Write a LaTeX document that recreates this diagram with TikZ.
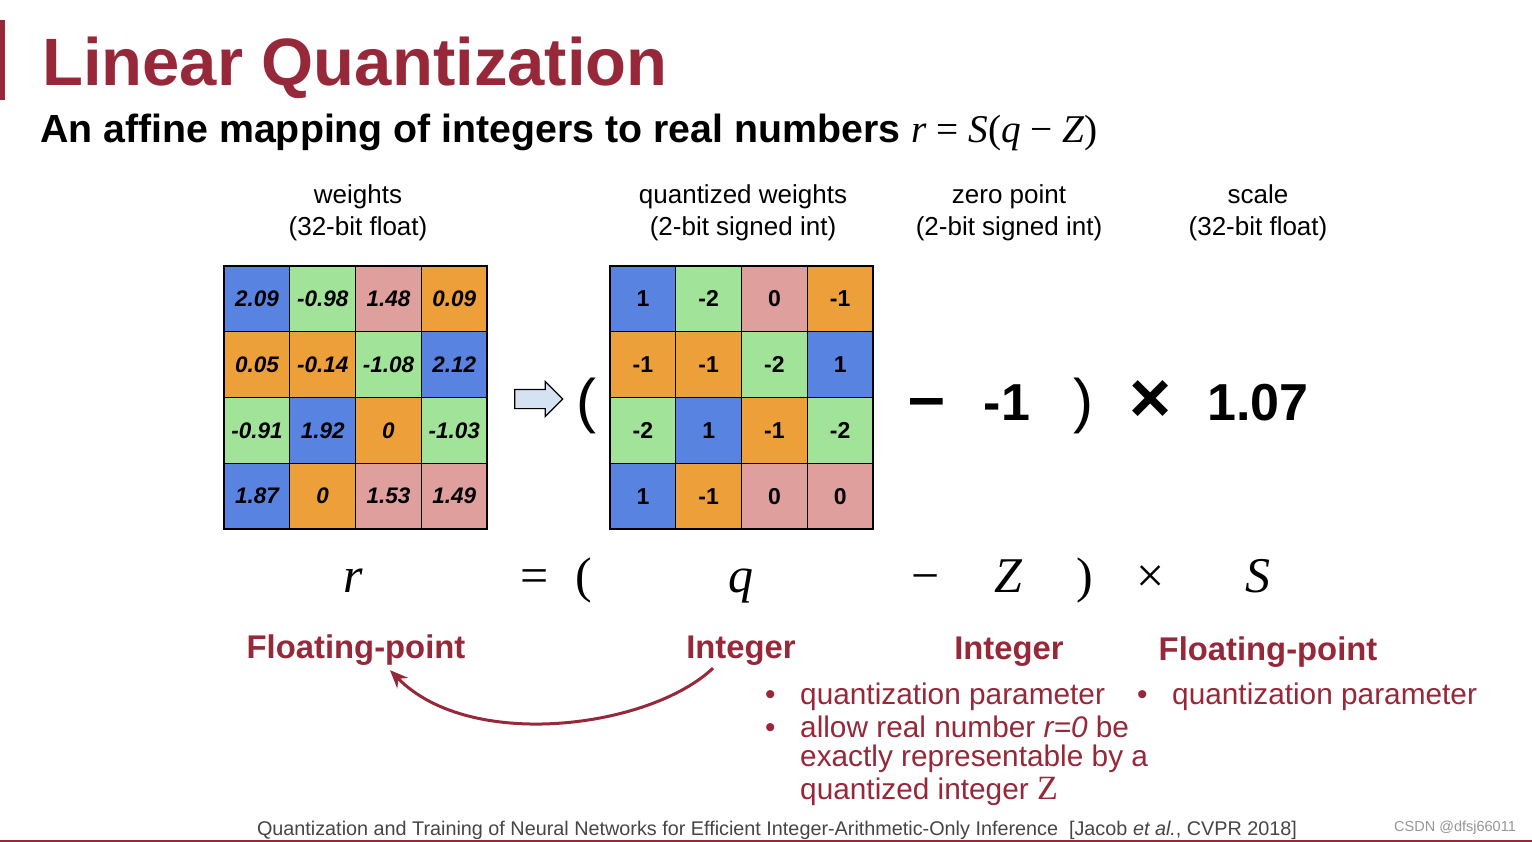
\documentclass[tikz,border=0pt]{standalone}
\usepackage{fontspec}
\setmainfont{Liberation Sans}
\newfontfamily\serifm{Liberation Serif}
\usepackage{tikz}
\usetikzlibrary{arrows.meta,shapes.arrows,positioning}
\usepackage{xcolor}
\definecolor{ttl}{RGB}{150,40,57}
\definecolor{cb}{RGB}{88,131,225}
\definecolor{cg}{RGB}{161,227,152}
\definecolor{cp}{RGB}{223,159,156}
\definecolor{co}{RGB}{237,160,58}
\definecolor{arf}{RGB}{212,226,242}
\definecolor{ftg}{RGB}{70,70,70}
\definecolor{wmk}{RGB}{150,150,150}
\newcommand{\fsz}[2]{\fontsize{#1}{#2}\selectfont}
\tikzset{
  cell/.style={rectangle,draw=black,line width=1.4pt,minimum size=65.75pt,
    inner sep=0pt,outer sep=0pt},
  wb/.style={cell,fill=cb},
  wg/.style={cell,fill=cg},
  wp/.style={cell,fill=cp},
  wo/.style={cell,fill=co},
  hd/.style={align=center,font=\fsz{26}{32},inner sep=0pt},
  bg/.style={font=\fsz{52}{52}\bfseries,inner sep=0pt},
  pr/.style={font=\fsz{60}{60},inner sep=0pt},
  eq/.style={font=\fsz{50}{50}\serifm,inner sep=0pt,anchor=base},
  lab/.style={font=\fsz{32.8}{32.8}\bfseries,text=ttl,inner sep=0pt,anchor=base},
  bl/.style={font=\fsz{29.8}{29.8},text=ttl,inner sep=0pt,anchor=base west},
  carr/.style={-{Stealth[length=18pt,width=15pt]},line width=3pt,draw=ttl},
}

\begin{document}
\begin{tikzpicture}[x=1pt,y=1pt,node distance=0pt and 0pt]

    \useasboundingbox (0,0) rectangle (1532,-842);
    \fill[white] (0,0) rectangle (1532,-842);

    % ── Title ──────────────────────────────────────────────────────────────────
    \fill[ttl] (0,-20) rectangle (5,-100);
    \node[anchor=base west,font=\fsz{67}{67}\bfseries,text=ttl,inner sep=0pt]
      (tt) at (42,-86) {Linear Quantization};
    \node[anchor=base west,font=\fsz{39.3}{39.3}\bfseries,inner sep=0pt] (sub) at (40,-143)
      {An affine mapping of integers to real numbers {\serifm\mdseries\itshape r
      \upshape = \itshape S\upshape(\itshape q \upshape{−} \itshape Z\upshape)}};

    % ── Column heads ───────────────────────────────────────────────────────────
    \node[hd] (hw) at (358,-213) {weights\\(32-bit float)};
    \node[hd] (hq) at (743,-213) {quantized weights\\(2-bit signed int)};
    \node[hd] (hz) at (1009,-213) {zero point\\(2-bit signed int)};
    \node[hd] (hs) at (1258,-213) {scale\\(32-bit float)};

    % ── Weights grid ───────────────────────────────────────────────────────────
    \begin{scope}[nodes={font=\fsz{22.5}{22.5}\bfseries\itshape}]
    \node[wb] (w11) at (256.9,-298.9) {2.09};
    \node[wg,right=of w11] (w12) {-0.98};
    \node[wp,right=of w12] (w13) {1.48};
    \node[wo,right=of w13] (w14) {0.09};
    \node[wo,below=of w11] (w21) {0.05};
    \node[wo,right=of w21] (w22) {-0.14};
    \node[wg,right=of w22] (w23) {-1.08};
    \node[wb,right=of w23] (w24) {2.12};
    \node[wg,below=of w21] (w31) {-0.91};
    \node[wb,right=of w31] (w32) {1.92};
    \node[wo,right=of w32] (w33) {0};
    \node[wg,right=of w33] (w34) {-1.03};
    \node[wb,below=of w31] (w41) {1.87};
    \node[wo,right=of w41] (w42) {0};
    \node[wp,right=of w42] (w43) {1.53};
    \node[wp,right=of w43] (w44) {1.49};
    \end{scope}

    \node[single arrow,draw=black,line width=1.2pt,fill=arf,minimum height=48pt,
      minimum width=34pt,inner sep=9pt,single arrow head extend=8pt]
      (ar) at (534,-399) {};

    % ── Quantized grid ─────────────────────────────────────────────────────────
    \begin{scope}[nodes={font=\fsz{23}{23}\bfseries}]
    \node[wb] (q11) at (642.9,-298.9) {1};
    \node[wg,right=of q11] (q12) {-2};
    \node[wp,right=of q12] (q13) {0};
    \node[wo,right=of q13] (q14) {-1};
    \node[wo,below=of q11] (q21) {-1};
    \node[wo,right=of q21] (q22) {-1};
    \node[wg,right=of q22] (q23) {-2};
    \node[wb,right=of q23] (q24) {1};
    \node[wg,below=of q21] (q31) {-2};
    \node[wb,right=of q31] (q32) {1};
    \node[wo,right=of q32] (q33) {-1};
    \node[wg,right=of q33] (q34) {-2};
    \node[wb,below=of q31] (q41) {1};
    \node[wo,right=of q41] (q42) {-1};
    \node[wp,right=of q42] (q43) {0};
    \node[wp,right=of q43] (q44) {0};
    \end{scope}

    % ── Numeric row ────────────────────────────────────────────────────────────
    \node[pr] (lp) at (586,-406) {(};
    \node[bg,font=\fsz{66}{66}\bfseries,anchor=base] (mn) at (927,-419) {–};
    \node[bg,anchor=base] (zp) at (1007,-420) {-1};
    \node[pr] (rp) at (1083,-406) {)};
    \node[bg,font=\fsz{72}{72}\bfseries] (tm) at (1151,-402) {×};
    \node[bg,anchor=base] (sc) at (1258,-420) {1.07};

    % ── Symbol row ─────────────────────────────────────────────────────────────
    \node[eq] (er) at (353,-592) {\itshape r};
    \node[eq] (ee) at (535,-592) {=};
    \node[eq] (el) at (584,-592) {(};
    \node[eq] (eqq) at (741,-592) {\itshape q};
    \node[eq] (em) at (926,-592) {−};
    \node[eq] (ez) at (1008,-592) {\itshape Z};
    \node[eq] (er2) at (1085,-592) {)};
    \node[eq] (et) at (1151,-592) {×};
    \node[eq] (es) at (1258,-592) {\itshape S};

    % ── Type labels ────────────────────────────────────────────────────────────
    \node[lab] (flt) at (356,-658) {Floating-point};
    \node[lab] (intl) at (741,-658) {Integer};
    \node[lab] (intr) at (1009,-659) {Integer};
    \node[lab] (flr) at (1268,-660) {Floating-point};

    \draw[carr] ([xshift=-28pt,yshift=-3pt]intl.south)
      .. controls (650,-728) and (470,-752) .. ([xshift=34pt,yshift=-5pt]flt.south);

    \node[bl] (b1) at (765,-704) {\makebox[35pt][l]{•}quantization parameter};
    \node[bl] (b2) at (765,-737) {\makebox[35pt][l]{•}allow real number \textit{r=0} be};
    \node[bl] (b3) at (800,-766) {exactly representable by a};
    \node[bl] (b4) at (800,-799) {quantized integer {\serifm\fsz{34}{34}Z}};
    \node[bl] (b5) at (1137,-704) {\makebox[35pt][l]{•}quantization parameter};

    % ── Footer ─────────────────────────────────────────────────────────────────
    \node[anchor=base,font=\fsz{19.8}{19.8},text=ftg,inner sep=0pt] (ref) at (777,-835)
      {Quantization and Training of Neural Networks for Efficient Integer-Arithmetic-Only
      Inference\ \ [Jacob \textit{et al.}, CVPR 2018]};
    \node[anchor=base,font=\fsz{14.5}{14.5},text=wmk,inner sep=0pt] (wm) at (1455,-831)
      {CSDN @dfsj66011};
    \draw[ttl,line width=2pt] (0,-841) -- (1532,-841);

  \end{tikzpicture}
\end{document}
